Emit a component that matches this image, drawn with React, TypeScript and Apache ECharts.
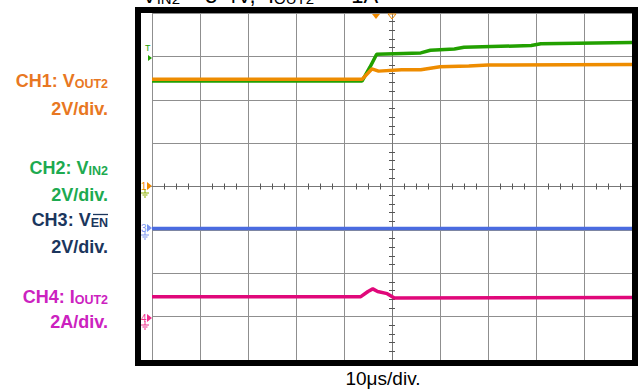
import React, { useEffect, useRef } from "react";
import * as echarts from "echarts";

// Time axis in microseconds (10 µs/div), vertical axis in divisions (-4..4)
const xTicks = { min: -50, max: 50, interval: 10 };
const yTicks = { min: -4, max: 4, interval: 1 };

// CH1: VOUT2 (orange)
const ch1Time = [-50, -6.25, -4.2, -2.8, 2, 6, 10, 16, 20, 50];
const ch1Div = [2.47, 2.47, 2.71, 2.66, 2.69, 2.69, 2.76, 2.78, 2.8, 2.81];

// CH2: VIN2 (green)
const ch2Time = [-50, -6.25, -4.6, -3.2, 6, 8, 13, 15, 29, 31, 50];
const ch2Div = [2.43, 2.43, 2.75, 3.05, 3.08, 3.14, 3.17, 3.21, 3.25, 3.29, 3.32];

// CH3: VEN (blue)
const ch3Time = [-50, 50];
const ch3Div = [-0.97, -0.97];

// CH4: IOUT2 (magenta)
const ch4Time = [-50, -6.5, -5, -4, -3, -1, 0.5, 50];
const ch4Div = [-2.54, -2.54, -2.42, -2.36, -2.42, -2.47, -2.57, -2.56];

const labelLines = [
  { text: "{a|CH1: V}{s|OUT2}", y: 81, color: "#E87722" },
  { text: "{a|2V/div.}", y: 109, color: "#E87722" },
  { text: "{a|CH2: V}{s|IN2}", y: 168, color: "#1DAA50" },
  { text: "{a|2V/div.}", y: 195, color: "#1DAA50" },
  { text: "{a|CH3: V}{s|EN}", y: 220, color: "#1B365D" },
  { text: "{a|2V/div.}", y: 247, color: "#1B365D" },
  { text: "{a|CH4: I}{s|OUT2}", y: 297, color: "#CC22BF" },
  { text: "{a|2A/div.}", y: 322, color: "#CC22BF" },
];

const zip = (t: number[], v: number[]) => t.map((x, i) => [x, v[i]]);

const FONT = "'Liberation Sans', Arial, sans-serif";

function groundMarker(label: string, cy: number, color: string, gcolor: string) {
  return {
    type: "group",
    z: 50,
    children: [
      { type: "text", x: 141, y: cy, style: { text: label, fill: color, font: `10px ${FONT}`, verticalAlign: "middle" } },
      { type: "polygon", shape: { points: [[147, cy - 4], [152, cy], [147, cy + 4]] }, style: { fill: color } },
      { type: "line", shape: { x1: 145, y1: cy + 3, x2: 145, y2: cy + 7 }, style: { stroke: gcolor, lineWidth: 1 } },
      { type: "line", shape: { x1: 141, y1: cy + 7, x2: 149, y2: cy + 7 }, style: { stroke: gcolor, lineWidth: 1 } },
      { type: "line", shape: { x1: 142.5, y1: cy + 9, x2: 147.5, y2: cy + 9 }, style: { stroke: gcolor, lineWidth: 1 } },
      { type: "line", shape: { x1: 144, y1: cy + 11, x2: 146, y2: cy + 11 }, style: { stroke: gcolor, lineWidth: 1 } },
    ],
  };
}

export default function App() {
  const ref = useRef<HTMLDivElement>(null);
  useEffect(() => {
    if (!ref.current) return;
    const chart = echarts.init(ref.current, undefined, { renderer: "svg" });
    const axisCommon = {
      type: "value",
      axisLabel: { show: false },
      axisTick: { show: false },
      axisLine: { show: true, onZero: true, lineStyle: { color: "#777", width: 1 } },
    };
    const graphics: any[] = [
      // partially cropped title at the top
      {
        type: "text",
        x: 142,
        y: 6,
        z: 10,
        style: {
          text: "{a|V}{s|IN2}{a| = 3-4V,  I}{s|OUT2}{a|  =  1A}",
          verticalAlign: "bottom",
          rich: {
            a: { font: `22px ${FONT}`, fill: "#000", verticalAlign: "bottom" },
            s: { font: `15px ${FONT}`, fill: "#000", verticalAlign: "bottom" },
          },
        },
      },
      // frame
      {
        type: "rect",
        z: 100,
        shape: { x: 138, y: 10, width: 497, height: 353 },
        style: { fill: "none", stroke: "#000", lineWidth: 6 },
      },
      // trigger markers
      { type: "polygon", z: 50, shape: { points: [[372, 14], [380, 14], [376, 19]] }, style: { fill: "#F08A00" } },
      { type: "polygon", z: 50, shape: { points: [[388, 14], [396, 14], [392, 19]] }, style: { fill: "none", stroke: "#F08A00", lineWidth: 1 } },
      { type: "text", z: 50, x: 145, y: 48, style: { text: "T", fill: "#22A000", font: `9px ${FONT}`, verticalAlign: "middle" } },
      { type: "polygon", z: 50, shape: { points: [[148, 55], [152, 58], [148, 61]] }, style: { fill: "#22A000" } },
      groundMarker("1", 186, "#F08A00", "#8DB000"),
      groundMarker("3", 228, "#7A94F0", "#7A94F0"),
      groundMarker("4", 318, "#F0308C", "#F0308C"),
      // x-scale text
      {
        type: "text",
        x: 383,
        y: 378,
        style: { text: "10μs/div.", fill: "#000", font: `19px ${FONT}`, align: "center", verticalAlign: "middle" },
      },
      // EN overline
      { type: "line", shape: { x1: 93, y1: 214.5, x2: 108, y2: 214.5 }, style: { stroke: "#1B365D", lineWidth: 1.3 } },
    ];
    labelLines.forEach((l) => {
      graphics.push({
        type: "text",
        x: 108,
        y: l.y,
        style: {
          text: l.text,
          align: "right",
          verticalAlign: "middle",
          rich: {
            a: { font: `bold 18px ${FONT}`, fill: l.color, verticalAlign: "bottom" },
            s: { font: `bold 12.5px ${FONT}`, fill: l.color, verticalAlign: "bottom" },
          },
        },
      });
    });

    const lineSeries = (name: string, data: number[][], color: string, z: number) => ({
      name,
      type: "line",
      data,
      showSymbol: false,
      symbol: "none",
      z,
      lineStyle: { color, width: 3.5 },
      itemStyle: { color },
    });

    chart.setOption({
      animation: false,
      backgroundColor: "#fff",
      grid: { left: 152, right: 6, top: 13, bottom: 32, containLabel: false },
      xAxis: [
        {
          ...axisCommon,
          ...xTicks,
          position: "bottom",
          splitLine: { show: true, lineStyle: { color: "#8f8f8f", width: 1 } },
          minorTick: { show: true, splitNumber: 4, length: 3, lineStyle: { color: "#555" } },
        },
        {
          ...axisCommon,
          ...xTicks,
          position: "top",
          splitLine: { show: false },
          minorTick: { show: true, splitNumber: 4, length: 3, lineStyle: { color: "#555" } },
        },
      ],
      yAxis: [
        {
          ...axisCommon,
          ...yTicks,
          position: "left",
          splitLine: { show: true, lineStyle: { color: "#8f8f8f", width: 1 } },
          minorTick: { show: true, splitNumber: 5, length: 3, lineStyle: { color: "#555" } },
        },
        {
          ...axisCommon,
          ...yTicks,
          position: "right",
          splitLine: { show: false },
          minorTick: { show: true, splitNumber: 5, length: 3, lineStyle: { color: "#555" } },
        },
      ],
      series: [
        lineSeries("CH2", zip(ch2Time, ch2Div), "#22A000", 3),
        lineSeries("CH1", zip(ch1Time, ch1Div), "#EE8C00", 4),
        lineSeries("CH3", zip(ch3Time, ch3Div), "#4A6BE0", 3),
        lineSeries("CH4", zip(ch4Time, ch4Div), "#E0087A", 3),
      ],
      graphic: graphics,
    });
    return () => chart.dispose();
  }, []);
  return (
    <div
      ref={ref}
      style={{ position: "absolute", left: 0, top: 0, width: 638, height: 392 }}
    />
  );
}
